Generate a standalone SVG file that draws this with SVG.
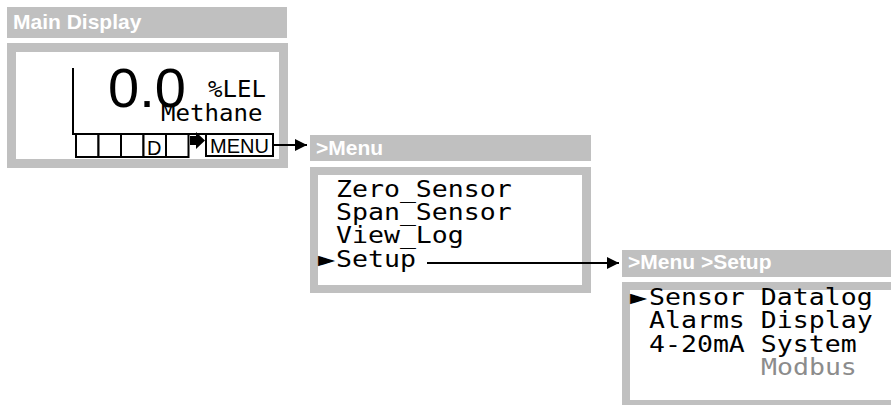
<svg xmlns="http://www.w3.org/2000/svg" width="891" height="405" viewBox="0 0 891 405">
<style>
.bar{fill:#c0c0c0}
.title{font-family:"Liberation Sans",Arial,sans-serif;font-weight:bold;font-size:21px;fill:#ffffff}
.mono{font-family:"DejaVu Sans Mono",monospace;font-size:22.5px;fill:#000}
.tri{font-family:"DejaVu Sans Mono",monospace;font-size:27px;fill:#000}
.ln{stroke:#000;stroke-width:2;fill:none}
.box{stroke:#000;stroke-width:2;fill:#fff}
.sans{font-family:"Liberation Sans",Arial,sans-serif;fill:#000}
</style>
<defs>
<marker id="ah" markerWidth="12" markerHeight="12" refX="12" refY="6" orient="auto" markerUnits="userSpaceOnUse">
<path d="M0,0 L12,6 L0,12 Z" fill="#000"/>
</marker>
</defs>
<rect width="891" height="405" fill="#fff"/>

<g id="main-display">
<rect class="bar" x="7" y="7" width="280" height="31"/>
<text class="title" x="13" y="29">Main Display</text>
<rect class="bar" x="7" y="43" width="281" height="125"/>
<rect x="16" y="52" width="263" height="107" fill="#fff"/>
<path class="ln" d="M73,68 V134 H272"/>
<text class="sans" x="108" y="107" font-size="56">0.0</text>
<text class="mono" transform="matrix(1.07,0,0,1,208,97)" font-size="23.5px">%LEL</text>
<text class="mono" transform="matrix(1.07,0,0,1,161,121)" font-size="23.5px">Methane</text>
<rect class="box" x="76" y="134" width="22.5" height="23"/>
<rect class="box" x="98.5" y="134" width="22.5" height="23"/>
<rect class="box" x="121" y="134" width="22.5" height="23"/>
<rect class="box" x="143.5" y="134" width="22.5" height="23"/>
<rect class="box" x="166" y="134" width="22.5" height="23"/>
<text class="sans" x="147" y="155" font-size="20">D</text>
<path d="M190,136 H196 V132 L205,140.5 L196,149 V145 H190 Z" fill="#000"/>
<rect class="box" x="206" y="134" width="67" height="22"/>
<text class="sans" x="210" y="153" font-size="20">MENU</text>
</g>

<g id="menu">
<rect class="bar" x="310" y="135" width="281" height="26"/>
<text class="title" x="316" y="155">&gt;Menu</text>
<rect class="bar" x="310" y="167" width="281" height="126"/>
<rect x="318" y="175" width="264" height="110" fill="#fff"/>
<text class="mono" transform="matrix(1.18,0,0,1,336,197)">Zero_Sensor</text>
<text class="mono" transform="matrix(1.18,0,0,1,336,220)">Span_Sensor</text>
<text class="mono" transform="matrix(1.18,0,0,1,336,243)">View_Log</text>
<text class="tri" transform="matrix(1.05,0,0,1,318,268)">►</text>
<text class="mono" transform="matrix(1.18,0,0,1,336,267)">Setup</text>
</g>

<g id="setup">
<rect class="bar" x="622" y="250" width="275" height="27"/>
<text class="title" x="628" y="269">&gt;Menu &gt;Setup</text>
<rect class="bar" x="622" y="282" width="275" height="125"/>
<rect x="630" y="290" width="270" height="110" fill="#fff"/>
<text class="tri" transform="matrix(1.05,0,0,1,630,306)">►</text>
<text class="mono" transform="matrix(1.18,0,0,1,649,305)">Sensor Datalog</text>
<text class="mono" transform="matrix(1.18,0,0,1,649,328)">Alarms Display</text>
<text class="mono" transform="matrix(1.18,0,0,1,649,352)">4-20mA System</text>
<text class="mono" transform="matrix(1.18,0,0,1,761,375)" style="fill:#8c8c8c">Modbus</text>
</g>

<g id="connectors">
<line class="ln" x1="273" y1="145" x2="307" y2="145" marker-end="url(#ah)"/>
<line class="ln" x1="427" y1="263" x2="619" y2="263" marker-end="url(#ah)"/>
</g>
</svg>
